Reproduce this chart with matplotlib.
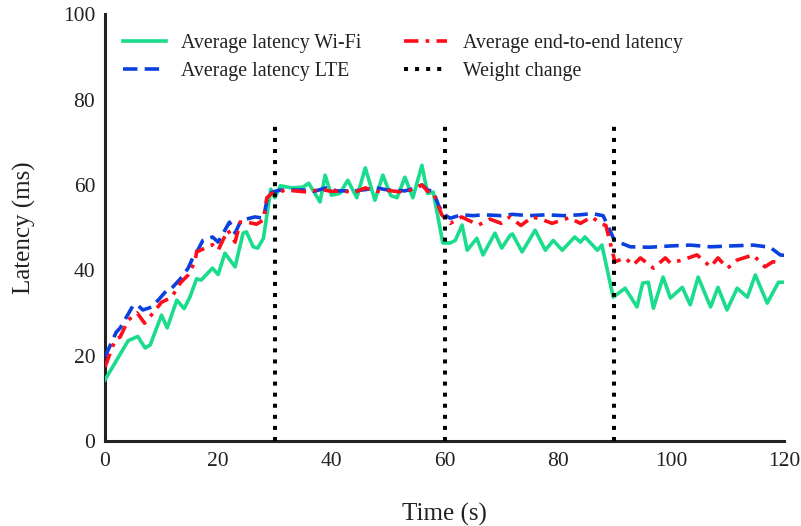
import matplotlib
matplotlib.use("Agg")
import matplotlib.pyplot as plt

plt.rcParams['font.family'] = ['Liberation Serif', 'DejaVu Serif']

# Wi-Fi latency (s, ms)
wifi_t = [0, 4.1, 5.8, 7.1, 8, 10, 11, 12.7, 14, 15, 16.2, 17, 19, 20, 21.2, 23, 24.4, 25, 26.2, 27,
          28, 29.3, 30, 31, 33, 35, 36, 38, 38.9, 40, 41.5, 42.9, 44.5, 46, 47.7, 49.1, 50.5, 51.6,
          53, 54.4, 56, 57, 58, 59.7, 61, 61.9, 63.1, 64, 65.7, 66.8, 68.9, 70.1, 71.6, 72, 73.7,
          76, 77.8, 79.2, 80.8, 83, 84, 84.8, 87, 87.8, 89.8, 91.9, 94, 95, 96, 96.9, 98.6, 99.9,
          102, 103.4, 104.8, 107, 108.3, 109.9, 111.7, 113.5, 114.9, 117, 119, 120]
wifi_v = [14.3, 23.5, 24.5, 21.8, 22.5, 29.5, 26.5, 33, 31, 33.7, 38, 37.7, 40.5, 39, 44, 40.8, 48.7, 49, 45.5, 45.2,
          47.5, 59, 57, 59.8, 59.3, 59.5, 60.4, 56, 62.3, 57.6, 58, 61.1, 57, 64, 56.4, 62.3, 57.5, 57,
          61.8, 57, 64.6, 58, 58.3, 46.4, 46.4, 47, 50.6, 44.7, 47.5, 43.6, 48.7, 45.2, 48.2, 48.5, 44.3,
          49.4, 44.7, 47, 44.7, 47.8, 46.6, 47.8, 44.7, 45.9, 33.7, 35.8, 31.4, 37, 37.2, 31.1, 38.4, 33.5,
          36, 31.9, 38.4, 31.4, 36, 30.7, 35.8, 33.7, 38.9, 32.3, 37.2, 37.2]

# LTE latency
lte_t = [0, 2, 2.7, 5, 5.8, 6.7, 8.3, 9.4, 11, 11.8, 13.6, 14.7, 15.9, 16.4, 17.3, 19, 20, 22, 23, 23.9,
         25, 26.5, 28, 28.8, 29.5, 31, 35, 37, 39, 41, 44, 46, 48, 50, 53, 55, 56, 57, 58, 59, 60,
         61, 62, 63, 65, 67, 70, 72, 75, 78, 81, 84, 86, 88, 89, 90, 92.8, 96.3, 99.9, 103.4, 107,
         110.5, 114.5, 117.5, 119.3, 120]
lte_v = [19.7, 25.5, 26.5, 31.8, 31.8, 30.7, 31.4, 33, 35.4, 35.8, 38.4, 40.5, 44, 44.7, 47, 47.8, 46.6, 51.3, 48.7, 51.3,
         52, 52.5, 52.2, 57.6, 58.3, 58.8, 58.8, 58.5, 59.3, 58.6, 58.6, 58.9, 59.3, 58.8, 58.6, 59.3, 60, 58.8, 58.5, 55, 53,
         52.2, 52.6, 53, 52.8, 53, 52.8, 53.1, 52.8, 53, 52.8, 53, 53.3, 52.8, 50, 47, 45.5, 45.4, 45.7, 45.9, 45.5,
         45.7, 45.9, 45.4, 43.6, 43.5]

# end-to-end latency
e2e_t = [0, 1.8, 2.7, 4.1, 5.7, 7, 8.5, 10, 11.8, 13.3, 14.7, 15.9, 16.2, 19, 20, 21.7, 23, 23.9, 25, 26.8,
         28, 28.6, 29.5, 32, 36, 38, 40, 42, 44, 46, 48, 50, 52, 54, 56, 57, 58, 59.5, 61, 63, 66, 68,
         70, 71.5, 73.5, 75.5, 77, 79, 82, 84, 86, 87.5, 88.5, 90.1, 91.9, 93.3, 94.6, 96.9, 99, 99.9,
         102, 104.6, 107, 108.3, 110, 111.7, 114.5, 116.6, 118, 119.6]
e2e_v = [17.3, 23.7, 24.4, 28.3, 30, 27.6, 30, 32.5, 33.7, 37, 38.9, 42, 44.3, 46, 44.7, 49.4, 46.6, 51.3, 51.3, 50.8,
         51.8, 57, 58, 58.8, 58.3, 59, 58.5, 58.6, 58.2, 59.3, 58.5, 58.7, 58.4, 58.8, 60, 58.5, 58.3, 53, 51, 52.5, 50.6, 52,
         51, 52.5, 50.5, 52.5, 52, 51, 52.3, 51, 52.5, 51, 50.5, 42, 42.9, 41.2, 42.9, 40.5, 42.9, 41.7,
         42.4, 43.6, 40.8, 42.9, 40.5, 42.4, 43.6, 40.8, 42, 41.7]

weight_changes = [30, 60, 90]
weight_top = 74

fig, ax = plt.subplots(figsize=(8.01, 5.26), dpi=100)
fig.subplots_adjust(left=0.131, right=0.979, top=0.973, bottom=0.1616)

ax.plot(wifi_t, wifi_v, color='#19dc8c', lw=2.6, label='Average latency Wi-Fi', zorder=3)
ax.plot(lte_t, lte_v, color='#0b40e0', lw=2.6, dashes=(4, 2), label='Average latency LTE', zorder=4)
ax.plot(e2e_t, e2e_v, color='#ff0d1a', lw=2.6, dashes=(4, 2, 1, 2), label='Average end-to-end latency', zorder=5)
for i, w in enumerate(weight_changes):
    ax.plot([w, w], [0, weight_top], color='black', lw=2.9, dashes=(1, 1.75),
            label='Weight change' if i == 0 else None, zorder=6)

ax.set_xlim(0, 120)
ax.set_ylim(0, 100)
ax.set_xticks([0, 20, 40, 60, 80, 100, 120])
ax.set_yticks([0, 20, 40, 60, 80, 100])
ax.tick_params(length=0, labelsize=15.5, colors='#222222')
ax.tick_params(axis='x', pad=8)
ax.tick_params(axis='y', pad=7)
for s in ['top', 'right']:
    ax.spines[s].set_visible(False)
for s in ['left', 'bottom']:
    ax.spines[s].set_linewidth(2.2)
    ax.spines[s].set_color('#222222')

ax.set_xlabel('Time (s)', fontsize=18, color='#222222', labelpad=23)
ax.set_ylabel('Latency (ms)', fontsize=18, color='#222222', labelpad=19)

ax.legend(ncol=2, loc='upper left', bbox_to_anchor=(0.0, 0.995), frameon=False,
          fontsize=14.3, handlelength=2.15, columnspacing=2.15, handletextpad=0.8,
          labelspacing=0.45, labelcolor='#222222')

plt.savefig('out.png', dpi=100)
